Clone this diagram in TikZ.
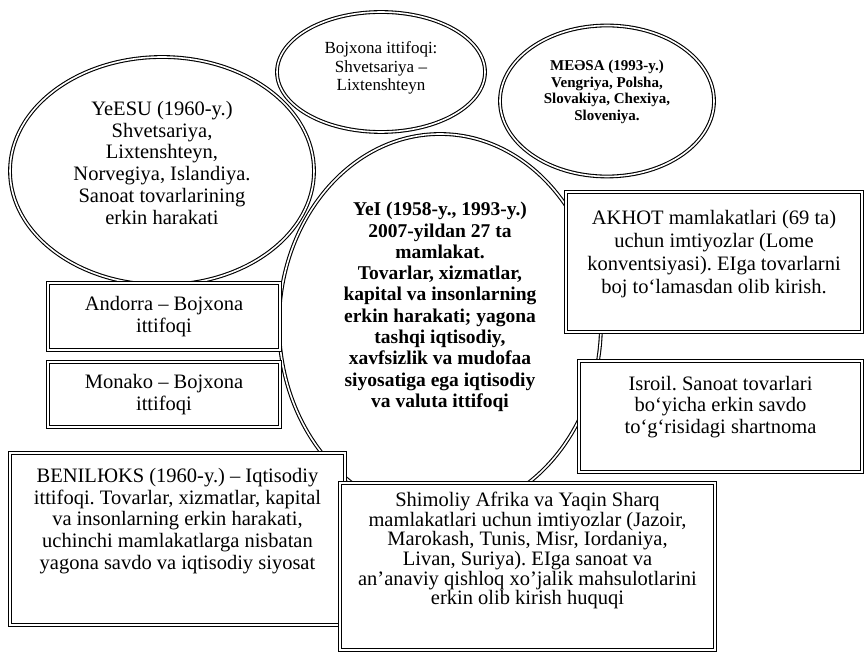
\documentclass[tikz,border=0pt]{standalone}
\usepackage{fontspec}
\setmainfont{Liberation Serif}
\usetikzlibrary{shapes.geometric}
\frenchspacing

\begin{document}
\begin{tikzpicture}[
        x=1pt, y=-1pt,
        font=\fontsize{20.5}{21.7}\selectfont,
        oval/.style={draw, ellipse, double, line width=1.1pt, double distance=1.6pt,
                     inner sep=0pt, align=center},
        centre/.style={oval, font=\fontsize{19.5}{21.3}\selectfont\bfseries},
        box/.style={draw, double, line width=1.3pt, double distance=1.9pt, fill=white,
                    inner sep=0pt, align=center}
    ]
        \useasboundingbox (0,0) rectangle (865,652);

        % the union itself, partly hidden by the boxes
        \node[centre, minimum width=322, minimum height=380] (yei) at (440,324)
             {YeI (1958-y., 1993-y.)\\ 2007-yildan 27 ta\\ mamlakat.\\ Tovarlar, xizmatlar,\\
              kapital va insonlarning\\ erkin harakati; yagona\\ tashqi iqtisodiy,\\
              xavfsizlik va mudofaa\\ siyosatiga ega iqtisodiy\\ va valuta ittifoqi\\[17pt]\mbox{}};

        % ovals on top
        \node[oval, minimum width=304, minimum height=228] (yeesu) at (162,171)
             {YeESU (1960-y.)\\ Shvetsariya,\\ Lixtenshteyn,\\ Norvegiya, Islandiya.\\
              Sanoat tovarlarining\\ erkin harakati\\[-5pt]\mbox{}};
        \node[oval, minimum width=208, minimum height=120,
              font=\fontsize{17}{18.7}\selectfont] (bojxona) at (381,72)
             {Bojxona ittifoqi:\\ Shvetsariya –\\ Lixtenshteyn\\[-7pt]\mbox{}};
        \node[oval, minimum width=214, minimum height=151,
              font=\fontsize{15}{16.7}\selectfont\bfseries] (meesa) at (607,101)
             {MEƏSA (1993-y.)\\ Vengriya, Polsha,\\ Slovakiya, Chexiya,\\ Sloveniya.\\[5pt]\mbox{}};

        % boxes
        \node[box, minimum width=232, minimum height=67] (andorra) at (164,316.5)
             {Andorra – Bojxona\\ ittifoqi};
        \node[box, minimum width=232, minimum height=65] (monako) at (164,394.5)
             {Monako – Bojxona\\ ittifoqi};
        \node[box, minimum width=335, minimum height=172] (benilyuks) at (177.5,539)
             {BENILЮKS (1960-y.) – Iqtisodiy\\ ittifoqi. Tovarlar, xizmatlar, kapital\\
              va insonlarning erkin harakati,\\ uchinchi mamlakatlarga nisbatan\\
              yagona savdo va iqtisodiy siyosat\\[19pt]\mbox{}};
        \node[box, minimum width=375, minimum height=167,
              font=\fontsize{20.5}{18}\selectfont] (shimoliy) at (527.5,566.5)
             {Shimoliy Afrika va Yaqin Sharq\\ mamlakatlari uchun imtiyozlar (Jazoir,\\
              Marokash, Tunis, Misr, Iordaniya,\\ Livan, Suriya). EIga sanoat va\\
              an’anaviy qishloq xo’jalik mahsulotlarini\\ erkin olib kirish huquqi\\[18pt]\mbox{}};
        \node[box, minimum width=296, minimum height=140,
              font=\fontsize{20.5}{23}\selectfont] (akhot) at (714,262)
             {AKHOT mamlakatlari (69 ta)\\ uchun imtiyozlar (Lome\\
              konventsiyasi). EIga tovarlarni\\ boj to‘lamasdan olib kirish.\\[-3pt]\mbox{}};
        \node[box, minimum width=283, minimum height=111] (isroil) at (720.5,416.5)
             {Isroil. Sanoat tovarlari\\ bo‘yicha erkin savdo\\ to‘g‘risidagi shartnoma\\[2pt]\mbox{}};
    \end{tikzpicture}
\end{document}
